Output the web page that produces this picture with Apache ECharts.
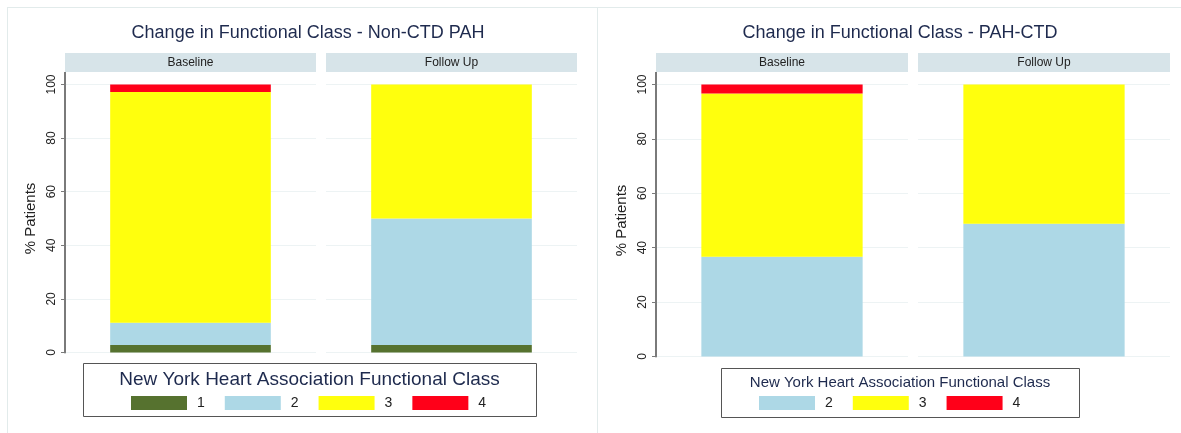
<!DOCTYPE html>
<html>
<head>
<meta charset="utf-8">
<script src="https://cdn.jsdelivr.net/npm/echarts@6/dist/echarts.min.js"></script>
<style>
  body { margin: 0; width: 1181px; height: 433px; overflow: hidden; background: #fff; position: relative; }
  .frame { position: absolute; top: 7px; height: 440px; border-left: 1px solid #e2ebeb; border-top: 1px solid #e2ebeb; }
  #f1 { left: 7px; width: 600px; }
  #f2 { left: 597px; width: 600px; }
  .chart { position: absolute; top: 0; height: 433px; }
  #c1 { left: 0; width: 590px; }
  #c2 { left: 590px; width: 591px; }
</style>
</head>
<body>
<div class="frame" id="f1"></div>
<div class="frame" id="f2"></div>
<div class="chart" id="c1"></div>
<div class="chart" id="c2"></div>
<script>
// facets and classes
const facets = ['Baseline', 'Follow Up']
const yTicks = [0, 20, 40, 60, 80, 100]

// Non-CTD PAH, % patients per NYHA class
const nonCtdClasses = ['1', '2', '3', '4']
const nonCtdBaseline = [2.8, 8.3, 86.1, 2.8]
const nonCtdFollowUp = [2.8, 47.2, 50.0, 0]

// PAH-CTD
const ctdClasses = ['2', '3', '4']
const ctdBaseline = [36.7, 60.0, 3.3]
const ctdFollowUp = [48.8, 51.2, 0]

const classColors = {
  '1': '#56722f',
  '2': '#add8e6',
  '3': '#ffff0d',
  '4': '#ff0019'
}

const FONT = '"Liberation Sans", Arial, sans-serif'
const NAVY = '#1e2a4e'

function buildOption(p) {
  const grids = p.facetLeft.map(l => ({ left: l, width: p.facetWidth, top: p.top, height: p.height }))
  const xAxes = grids.map((g, i) => ({ type: 'category', gridIndex: i, data: [facets[i]], show: false }))
  const yAxes = grids.map((g, i) => ({
    type: 'value',
    gridIndex: i,
    min: 0,
    max: 100,
    interval: yTicks[1] - yTicks[0],
    name: i === 0 ? '% Patients' : '',
    nameLocation: 'middle',
    nameGap: 27,
    nameTextStyle: { fontSize: 15, color: '#222', fontFamily: FONT },
    axisLine: { show: i === 0, lineStyle: { color: '#7a7a7a', width: 2 } },
    axisTick: { show: i === 0, length: 4, lineStyle: { color: '#7a7a7a' } },
    axisLabel: { show: i === 0, rotate: 90, fontSize: 12, color: '#222', margin: 7, fontFamily: FONT },
    splitLine: { show: true, lineStyle: { color: '#edf3f4', width: 1 } }
  }))

  const series = []
  p.classes.forEach((c, ci) => {
    [p.baseline, p.followUp].forEach((vals, f) => {
      series.push({
        name: c,
        type: 'bar',
        stack: 'facet' + f,
        xAxisIndex: f,
        yAxisIndex: f,
        barWidth: '64%',
        itemStyle: { color: classColors[c] },
        data: [vals[ci]]
      })
    })
  })

  const graphic = []
  p.facetLeft.forEach((l, i) => {
    graphic.push({
      type: 'rect',
      shape: { x: l, y: 53, width: p.facetWidth, height: 19 },
      style: { fill: '#d7e4e9' },
      silent: true
    })
    graphic.push({
      type: 'text',
      x: l + p.facetWidth / 2,
      y: 62.5,
      style: { text: facets[i], fill: '#222', font: '12px ' + FONT, align: 'center', verticalAlign: 'middle' },
      silent: true
    })
  })
  // axis line continues up to the strip
  graphic.push({
    type: 'line',
    shape: { x1: p.facetLeft[0], y1: 72, x2: p.facetLeft[0], y2: p.top },
    style: { stroke: '#7a7a7a', lineWidth: 2 },
    silent: true
  })
  // legend frame and heading
  const b = p.legendBox
  graphic.push({
    type: 'rect',
    shape: { x: b[0] + 0.5, y: b[1] + 0.5, width: b[2], height: b[3] },
    style: { fill: '#fff', stroke: '#555', lineWidth: 1 },
    z: 0,
    silent: true
  })
  graphic.push({
    type: 'text',
    x: b[0] + b[2] / 2,
    y: p.legendTitleY,
    style: { text: 'New York Heart Association Functional Class', fill: NAVY, font: p.legendTitleSize + 'px ' + FONT, align: 'center', verticalAlign: 'middle' },
    silent: true
  })

  return {
    animation: false,
    textStyle: { fontFamily: FONT },
    title: {
      text: p.title,
      left: p.titleX,
      textAlign: 'center',
      top: 24,
      padding: 0,
      textStyle: { fontSize: 18, fontWeight: 'normal', color: NAVY, fontFamily: FONT }
    },
    legend: {
      data: p.classes,
      left: p.legendLeft,
      top: 396,
      padding: 0,
      icon: 'rect',
      itemWidth: 56,
      itemHeight: 14,
      itemGap: 20,
      z: 5,
      textStyle: { fontSize: 14, color: '#222', fontFamily: FONT, padding: [0, 0, 0, 5] }
    },
    grid: grids,
    xAxis: xAxes,
    yAxis: yAxes,
    series: series,
    graphic: graphic
  }
}

const nonCtdChart = echarts.init(document.getElementById('c1'))
nonCtdChart.setOption(buildOption({
  title: 'Change in Functional Class - Non-CTD PAH',
  titleX: 308,
  classes: nonCtdClasses,
  baseline: nonCtdBaseline,
  followUp: nonCtdFollowUp,
  facetLeft: [65, 326],
  facetWidth: 251,
  top: 84.5,
  height: 268,
  legendBox: [83, 363, 453, 53],
  legendTitleY: 380,
  legendTitleSize: 19,
  legendLeft: 131
}))

const ctdChart = echarts.init(document.getElementById('c2'))
ctdChart.setOption(buildOption({
  title: 'Change in Functional Class - PAH-CTD',
  titleX: 310,
  classes: ctdClasses,
  baseline: ctdBaseline,
  followUp: ctdFollowUp,
  facetLeft: [66, 328],
  facetWidth: 252,
  top: 84.5,
  height: 272,
  legendBox: [131, 368, 358, 49],
  legendTitleY: 382.5,
  legendTitleSize: 15,
  legendLeft: 169
}))
</script>
</body>
</html>
